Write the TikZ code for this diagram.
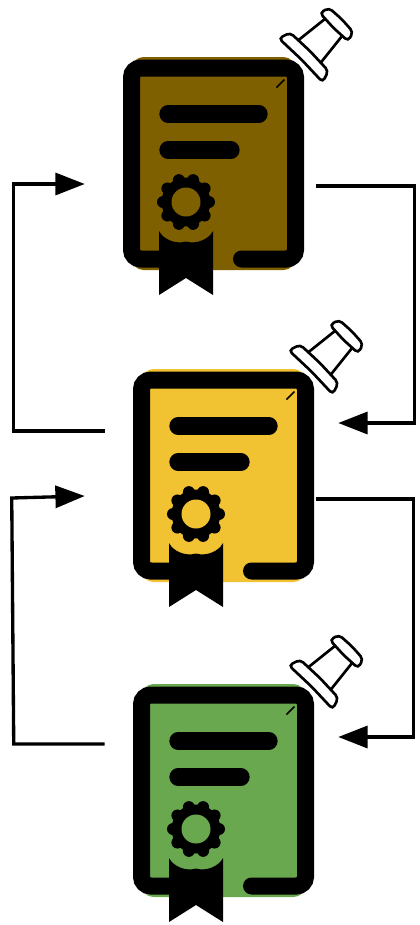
\documentclass[tikz,border=0pt]{standalone}
\usepackage{tikz}
\usetikzlibrary{arrows.meta,positioning}
\definecolor{CertBrown}{HTML}{7F6000}
\definecolor{CertYellow}{HTML}{F1C232}
\definecolor{CertGreen}{HTML}{6AA84F}
\tikzset{
  pics/certmarks/.style={code={
    \draw[line width=12.75pt,line cap=round,rounded corners=7pt] (-53,95.5) -- (-82,95.5) -- (-82,-95.5) -- (82,-95.5) -- (82,95.5) -- (28,95.5);
    \draw[line width=13pt,line cap=round] (-45.5,-49.5) -- (45.5,-49.5);
    \draw[line width=13pt,line cap=round] (-45.5,-13.5) -- (17.5,-13.5);
    \draw[line width=1.2pt] (63,-76) -- (71,-84);
    % seal
    \foreach \a in {0,36,...,324} \fill (-27.5,38.5) ++(\a:23) circle[radius=6];
    \fill (-27.5,38.5) circle[radius=24.5];
    \fill[#1] (-27.5,38.5) circle[radius=14.5];
    % ribbon
    \fill (-54.5,67.5) .. controls (-50,76) and (-38,81) .. (-27.5,78) .. controls (-17,81) and (-5,76) .. (-0.5,67.5) -- (-0.5,131.5) -- (-27.5,114.5) -- (-54.5,131.5) -- cycle;
    % pin
    \begin{scope}[shift={(91.5,-107.5)},rotate=45]
      \draw[line width=2pt,fill=white,line join=round] (5,-16) -- (41,-12) -- (41,12) -- (5,16) -- cycle;
      \draw[line width=2pt,fill=white,rounded corners=3pt] (-6,-31) -- (6,-27) -- (7,0) -- (6,27) -- (-6,31) -- (-5,0) -- cycle;
      \draw[line width=2pt,fill=white,rounded corners=3pt] (41,-20) -- (51,-17) -- (52,0) -- (51,17) -- (41,20) -- (40,0) -- cycle;
    \end{scope}
  }}
}
\begin{document}
\begin{tikzpicture}[x=.75pt,y=-.75pt,
  certbox/.style={inner sep=0pt,rounded corners=9pt,minimum width=123pt,minimum height=159.75pt},
  link/.style={line width=2.5pt,-{Triangle[length=22pt,width=16.5pt]}}]
\useasboundingbox (0,0) rectangle (419,925);
\node[certbox,fill=CertBrown] (brown) at (213.5,163.5) {};
\node[certbox,fill=CertYellow] (yellow) at (223.5,475.5) {};
\node[certbox,fill=CertGreen] (green) at (223.5,790.5) {};
\pic at (brown) {certmarks=CertBrown};
\pic at (yellow) {certmarks=CertYellow};
\pic at (green) {certmarks=CertGreen};
% connector ends
\coordinate (brownOut) at ([shift={(20.5,22.5)}]brown.east);
\coordinate (brownIn) at ([shift={(-46.5,20.5)}]brown.west);
\coordinate (yellowIn) at ([shift={(32.5,-52.5)}]yellow.east);
\coordinate (yellowBack) at ([shift={(-36.5,-44.5)}]yellow.west);
\coordinate (yellowOut) at ([shift={(10.5,23.5)}]yellow.east);
\coordinate (yellowEntry) at ([shift={(-56.5,20.5)}]yellow.west);
\coordinate (greenIn) at ([shift={(32.5,-53.5)}]green.east);
\coordinate (greenBack) at ([shift={(-36.5,-46.5)}]green.west);
\draw[link] (brownOut) -- ++(98,0) |- (yellowIn);
\draw[link] (yellowBack) -- ++(-91,0) |- (brownIn);
\draw[link] (yellowOut) -- ++(97,0) |- (greenIn);
\draw[link] (greenBack) -- ++(-91,0) -- ++(-2,-246) -- (yellowEntry);
\end{tikzpicture}
\end{document}
